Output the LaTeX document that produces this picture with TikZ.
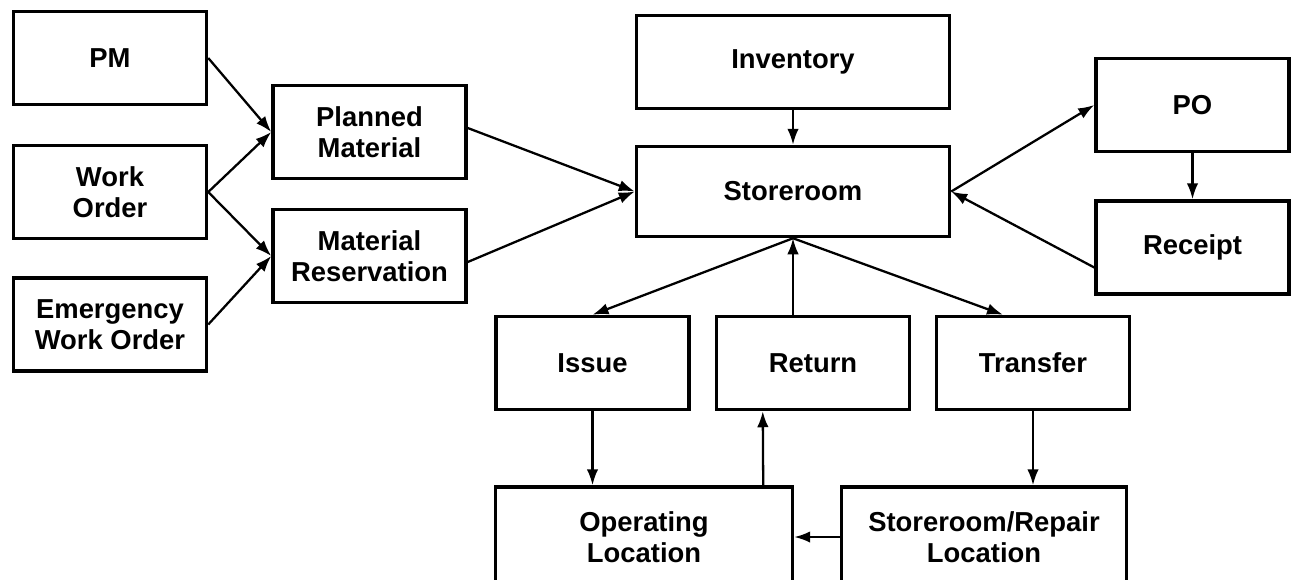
\documentclass[tikz,border=0pt]{standalone}
\usepackage{fontspec}
\setmainfont{Liberation Sans}
\usetikzlibrary{arrows.meta, positioning, calc}

\begin{document}
\begin{tikzpicture}[
    x=0.02cm, y=-0.02cm,
    box/.style={rectangle, draw=black, line width=2pt, align=center, inner sep=0pt, font=\fontsize{15.6}{17.6}\selectfont\bfseries},
    sbox/.style={box, minimum width=3.86cm, minimum height=1.86cm},
    wbox/.style={box, minimum width=6.26cm, minimum height=1.86cm},
    lbox/.style={box, minimum height=2cm},
    arrow/.style={-{Latex[length=3.2mm, width=2.3mm]}, line width=1.3pt},
]
    \useasboundingbox (0,0) rectangle (1292,579);

    \node[sbox] (pm) at (110,58) {PM};
    \node[sbox] (wo) at (110,192) {Work\\Order};
    \node[sbox] (ewo) at (110,324.5) {Emergency\\Work Order};
    \node[sbox] (planned) at (369.5,132) {Planned\\Material};
    \node[sbox] (reserv) at (369.5,256) {Material\\Reservation};
    \node[wbox] (inventory) at (793,62) {Inventory};
    \node[wbox, minimum height=1.8cm] (storeroom) at (793,191.5) {Storeroom};
    \node[sbox] (po) at (1192.5,105) {PO};
    \node[sbox] (receipt) at (1192.5,247.5) {Receipt};
    \node[sbox] (issue) at (592.5,363) {Issue};
    \node[sbox] (ret) at (813,363) {Return};
    \node[sbox] (transfer) at (1033,363) {Transfer};
    \node[lbox, minimum width=5.94cm] (oploc) at (644,537) {Operating\\Location};
    \node[lbox, minimum width=5.7cm] (repair) at (984,537) {Storeroom/Repair\\Location};

    \draw[arrow] (pm.east) -- (planned.west);
    \draw[arrow] (wo.east) -- (planned.west);
    \draw[arrow] (wo.east) -- (reserv.west);
    \draw[arrow] (ewo.east) -- (reserv.west);
    \draw[arrow] ($(planned.east)+(0,-4)$) -- (storeroom.west);
    \draw[arrow] ($(reserv.east)+(0,6)$) -- (storeroom.west);
    \draw[arrow] (inventory.south) -- (storeroom.north);
    \draw[arrow] (storeroom.east) -- (po.west);
    \draw[arrow] ($(receipt.west)+(0,20)$) -- (storeroom.east);
    \draw[arrow] (po.south) -- (receipt.north);
    \draw[arrow] (storeroom.south) -- (issue.north);
    \draw[arrow] (ret.north -| storeroom.south) -- (storeroom.south);
    \draw[arrow] (storeroom.south) -- ($(transfer.north)+(-30,0)$);
    \draw[arrow] (issue.south) -- (issue.south |- oploc.north);
    \draw[arrow] ($(oploc.north east)+(-31,0)$) -- ($(ret.south west)+(48,0)$);
    \draw[arrow] (transfer.south) -- (transfer.south |- repair.north);
    \draw[arrow] (repair.west) -- (oploc.east);
\end{tikzpicture}
\end{document}
